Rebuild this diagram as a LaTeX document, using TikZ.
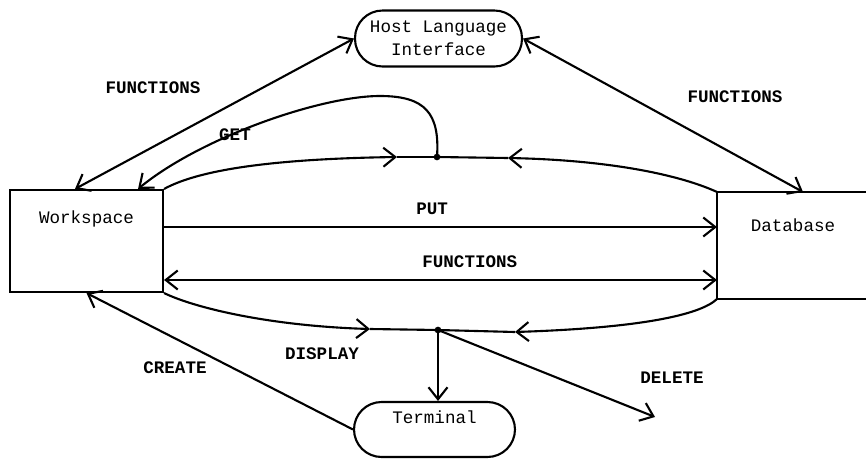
\documentclass[tikz,border=0pt]{standalone}
\usepackage{fontspec}
\setmainfont{Liberation Mono}
\usetikzlibrary{arrows.meta,positioning}
\tikzset{>={Straight Barb[length=2.4mm,width=3.8mm]}}
\tikzset{
  box/.style={minimum width=3.06cm, minimum height=2.04cm, inner sep=0pt},
  pill/.style={draw, rounded corners=0.55cm, minimum height=1.12cm, align=center},
  lbl/.style={font=\bfseries},
}

\begin{document}
\begin{tikzpicture}[x=0.02cm, y=0.02cm, line width=1.2pt]
      \useasboundingbox (0,0) rectangle (866,458);
      \node[draw, box, label={[anchor=center, yshift=-0.6cm]north:Workspace}] (n0) at (86.5,217) {};
      \node[box, minimum width=3cm, minimum height=2.1cm, label={[anchor=center, yshift=-0.67cm]north:Database}] (n1) at (793,212.5) {};
      \draw (n1.north east) -- (n1.north west) -- (n1.south west) -- (n1.south east);
      \node[pill, minimum width=3.34cm] (n2) at (438.5,419.5) {Host Language\\[1pt]Interface};
      \node[pill, minimum width=3.22cm, minimum height=1.1cm, label={[anchor=center, yshift=-0.32cm]north:Terminal}] (n3) at (434.5,28.5) {};
      \coordinate (aux1) at (437,301);
      \coordinate (aux2) at (438,128);
      \coordinate (aux3) at (397,301);
      \coordinate (aux4) at (508,300);
      \coordinate (aux5) at (370,129);
      \coordinate (aux6) at (515,126);
      \coordinate (aux7) at (655,41);
      \coordinate (aux8) at ([yshift=0.28cm]n0.east);
      \coordinate (aux9) at ([yshift=-0.78cm]n0.east);
      % upper and lower lens
      \draw[->] (n0.north east) .. controls (195,286) and (260,299) .. (aux3);
      \draw (aux3) -- (aux1);
      \draw[->] (n1.north west) .. controls (680,283) and (610,298) .. (aux4);
      \draw (aux4) -- (aux1);
      \draw[->] (n0.south east) .. controls (195,150) and (270,132) .. (aux5);
      \draw (aux5) -- (aux2);
      \draw[->] (n1.south west) .. controls (700,143) and (640,130) .. (aux6);
      \draw (aux6) -- (aux2);
      \fill (aux1) circle (1.9pt);
      \fill (aux2) circle (1.9pt);
      \draw[->] (aux1) .. controls (440,345) and (425,362) .. (380,362) .. controls (320,362) and (200,320) .. ([xshift=-0.52cm]n0.north east);
      \node[lbl] (l1) at (235,323) {GET};
      \draw[<->] ([xshift=-0.23cm]n0.north) -- (n2.west);
      \draw[<->] (n2.east) -- ([xshift=0.2cm]n1.north);
      \draw[->] (aux8) -- node[lbl, above=3pt, pos=.485] {PUT} (aux8 -| n1.west);
      \draw[<->] (aux9) -- node[lbl, above=3pt, pos=.553] {FUNCTIONS} (aux9 -| n1.west);
      \draw[->] (aux2) -- (aux2 |- n3.north);
      \draw[->] (aux2) -- (aux7);
      \draw[->] (n3.west) -- (n0.south);
      \node[lbl] (l2) at (153,370) {FUNCTIONS};
      \node[lbl] (l3) at (735,361) {FUNCTIONS};
      \node[lbl] (l4) at (322,104) {DISPLAY};
      \node[lbl] (l5) at (175,90) {CREATE};
      \node[lbl] (l6) at (672,80) {DELETE};
    \end{tikzpicture}
\end{document}
